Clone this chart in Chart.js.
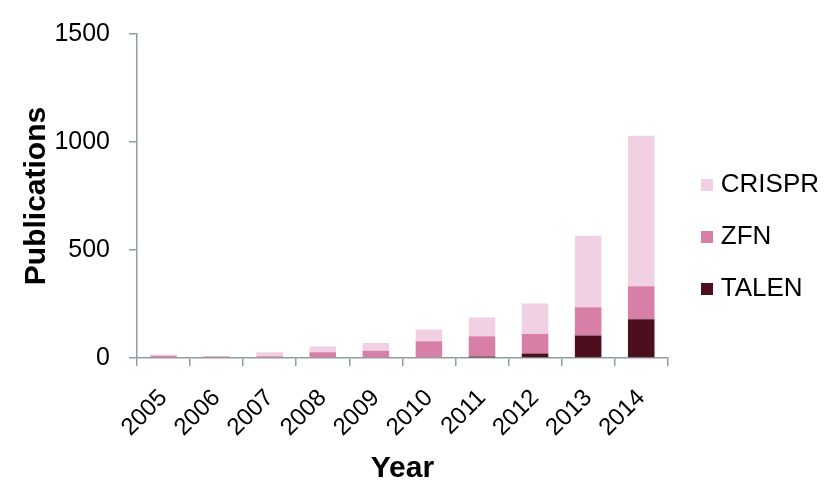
<!DOCTYPE html>
<html>
<head>
<meta charset="utf-8">
<script src="https://cdn.jsdelivr.net/npm/chart.js@4"></script>
<style>
  html, body { margin: 0; padding: 0; background: #fff; }
  #wrap { width: 837px; height: 502px; }
</style>
</head>
<body>
<div id="wrap"><canvas id="c" width="837" height="502"></canvas></div>
<script>
const years = ["2005","2006","2007","2008","2009","2010","2011","2012","2013","2014"];
const talen  = [0, 0, 0, 0, 0, 0, 7, 21, 104, 179];
const zfn    = [9, 7, 8, 27, 33, 78, 94, 90, 131, 153];
const crispr = [7, 1, 19, 26, 37, 54, 86, 141, 331, 697];
const yTicks = [0, 500, 1000, 1500];

const seriesColors = { TALEN: '#4d0f1e', ZFN: '#d87fa8', CRISPR: '#f2d0e3' };
const axisColor = '#8d9ea6';
const fontFam = '"Liberation Sans", Arial, Helvetica, sans-serif';

function swatch(color) {
  const cv = document.createElement('canvas');
  cv.width = 12; cv.height = 12;
  const g = cv.getContext('2d');
  g.fillStyle = color; g.fillRect(0, 0, 12, 12);
  return cv;
}

const legendShift = {
  id: 'legendShift',
  afterLayout(chart) {
    const lg = chart.legend;
    if (lg) { lg.top -= 24; lg.bottom -= 24; lg.left += 13; lg.right += 13; }
  }
};

new Chart(document.getElementById('c'), {
  type: 'bar',
  data: {
    labels: years,
    datasets: [
      { label: 'TALEN', data: talen, backgroundColor: seriesColors.TALEN, barPercentage: 0.5, categoryPercentage: 1.0 },
      { label: 'ZFN', data: zfn, backgroundColor: seriesColors.ZFN, barPercentage: 0.5, categoryPercentage: 1.0 },
      { label: 'CRISPR', data: crispr, backgroundColor: seriesColors.CRISPR, barPercentage: 0.5, categoryPercentage: 1.0 }
    ]
  },
  plugins: [legendShift],
  options: {
    responsive: false,
    animation: false,
    devicePixelRatio: 1,
    layout: { padding: { left: 13, right: 21, top: 31, bottom: 11 } },
    plugins: {
      tooltip: { enabled: false },
      legend: {
        position: 'right',
        reverse: true,
        labels: {
          usePointStyle: true, pointStyleWidth: 1,
          boxWidth: 12, boxHeight: 12, padding: 26,
          color: '#000',
          font: { family: fontFam, size: 26 },
          generateLabels: (chart) => Chart.defaults.plugins.legend.labels.generateLabels(chart).map(item => {
            item.pointStyle = swatch(seriesColors[item.text]);
            return item;
          })
        }
      }
    },
    scales: {
      x: {
        stacked: true,
        afterFit: (s) => { s.height = 133; },
        border: { color: axisColor, width: 1.5 },
        grid: { display: true, drawOnChartArea: false, tickLength: 8, color: axisColor, lineWidth: 1.5, offset: true },
        ticks: { color: '#000', font: { family: fontFam, size: 24 }, minRotation: 45, maxRotation: 45, padding: 18 },
        title: { display: true, text: 'Year', color: '#000', font: { family: fontFam, size: 30, weight: 'bold' }, padding: { top: 0, bottom: 4 } }
      },
      y: {
        stacked: true,
        min: 0, max: 1500,
        afterBuildTicks: (s) => { s.ticks = yTicks.map(v => ({ value: v })); },
        afterFit: (s) => { s.width = 124; },
        border: { color: axisColor, width: 1.5 },
        grid: { display: true, drawOnChartArea: false, tickLength: 8, color: axisColor, lineWidth: 1.5 },
        ticks: { color: '#000', font: { family: fontFam, size: 25 }, padding: 19, callback: (v) => String(v) },
        title: { display: true, text: 'Publications', color: '#000', font: { family: fontFam, size: 30, weight: 'bold' }, padding: { top: 6, bottom: 2 } }
      }
    }
  }
});
</script>
</body>
</html>
